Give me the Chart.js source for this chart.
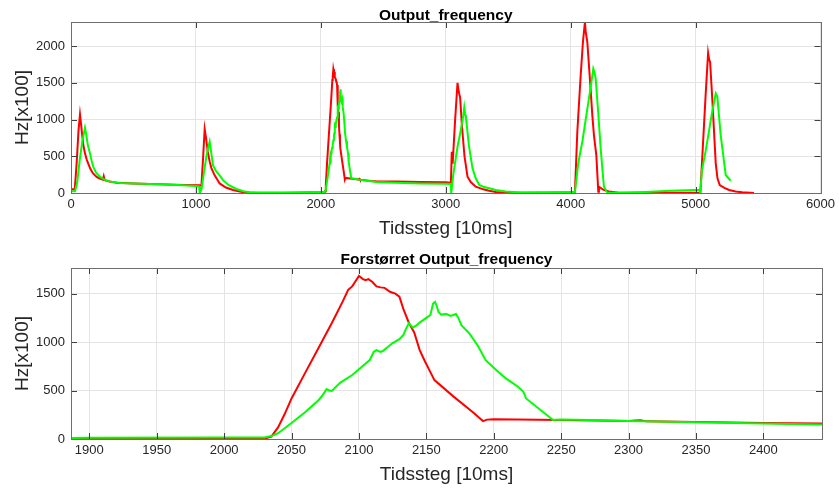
<!DOCTYPE html>
<html>
<head>
<meta charset="utf-8">
<script src="https://cdn.jsdelivr.net/npm/chart.js@4.4.0/dist/chart.umd.min.js"></script>
<style>
  html, body { margin: 0; padding: 0; background: #ffffff; }
  #wrap { position: relative; width: 839px; height: 488px; }
  canvas { position: absolute; left: 0; }
  #c1 { top: 0; }
  #c2 { top: 244px; }
</style>
</head>
<body>
<div id="wrap">
  <canvas id="c1" width="839" height="244"></canvas>
  <canvas id="c2" width="839" height="244"></canvas>
</div>
<script>
// ---- Data (time step [10ms], Hz[x100]) ----
const topTitle = "Output_frequency";
const zoomTitle = "Forstørret Output_frequency";
const xLabel = "Tidssteg [10ms]";
const yLabel = "Hz[x100]";

const redSeries = [
  [0,50],[30,50],[45,400],[60,850],[72,1070],[80,950],[90,780],[100,640],[112,540],[125,460],
  [138,400],[155,330],[175,270],[205,220],[230,195],[255,180],[262,230],[270,175],[300,160],[365,140],
  [500,130],[700,120],[900,110],[1030,105],[1044,100],[1058,500],[1070,870],[1080,760],[1095,560],[1110,430],
  [1124,340],[1150,240],[1190,130],[1240,75],[1297,40],[1350,20],[1403,5],[1500,2],[1700,3],[1900,5],
  [2000,8],[2031,8],[2035,25],[2040,120],[2045,260],[2050,419],[2060,680],[2070,940],[2080,1200],[2088,1420],
  [2092,1540],[2095,1575],[2100,1682],[2103,1650],[2105,1640],[2107,1650],[2110,1620],[2113,1575],[2116,1565],[2119,1560],
  [2123,1520],[2127,1500],[2130,1470],[2133,1340],[2137,1200],[2141,1100],[2145,920],[2149,800],[2153,690],[2156,608],
  [2170,440],[2185,270],[2192,185],[2195,200],[2200,205],[2250,195],[2300,185],[2305,190],[2309,193],[2313,182],
  [2350,175],[2400,165],[2443,160],[2600,155],[2800,150],[3000,145],[3041,140],[3048,560],[3055,400],[3075,1000],
  [3094,1500],[3100,1420],[3107,1356],[3115,1300],[3130,900],[3150,500],[3174,222],[3200,150],[3240,86],[3300,50],
  [3347,32],[3400,15],[3480,5],[3600,3],[3800,5],[4000,8],[4034,8],[4053,834],[4080,1605],[4098,2058],
  [4114,2330],[4120,2200],[4133,2058],[4146,1741],[4160,1400],[4173,1061],[4186,789],[4205,517],[4221,18],[4226,86],
  [4260,45],[4306,20],[4386,5],[4500,2],[4800,2],[5000,3],[5038,3],[5060,700],[5080,1330],[5100,1908],
  [5108,1820],[5116,1786],[5134,1265],[5161,404],[5175,200],[5193,109],[5230,70],[5268,41],[5320,20],[5374,10],
  [5467,0]
];

const greenSeries = [
  [0,25],[32,25],[50,150],[70,450],[90,700],[112,890],[120,820],[135,650],[152,540],[165,440],
  [178,360],[200,280],[232,220],[270,180],[312,155],[400,135],[500,128],[700,118],[900,105],[1000,95],
  [1025,90],[1031,0],[1045,50],[1070,350],[1090,560],[1110,700],[1120,580],[1137,380],[1160,300],[1190,240],
  [1217,175],[1260,110],[1324,55],[1380,25],[1430,10],[1500,3],[1700,5],[1900,12],[2000,15],[2030,15],
  [2035,30],[2040,60],[2050,165],[2060,275],[2070,400],[2073,450],[2076,515],[2078,500],[2080,495],[2083,540],
  [2086,580],[2090,615],[2095,660],[2100,720],[2105,780],[2108,815],[2111,900],[2113,917],[2116,900],[2118,910],
  [2120,935],[2125,990],[2130,1030],[2133,1075],[2135,1140],[2137,1195],[2140,1150],[2143,1175],[2145,1201],[2150,1250],
  [2153,1280],[2155,1397],[2156.5,1414],[2158,1360],[2159,1311],[2161,1284],[2165,1290],[2168,1270],[2172,1290],[2174,1243],
  [2176,1174],[2182,1088],[2188,968],[2194,813],[2202,710],[2209,625],[2218,539],[2222,488],[2224,419],[2244,196],
  [2250,200],[2270,195],[2300,185],[2350,172],[2400,160],[2443,150],[2600,140],[2800,130],[3000,125],[3040,122],
  [3044,0],[3060,250],[3094,630],[3120,857],[3140,1050],[3148,1165],[3155,1070],[3161,1040],[3185,650],[3214,336],
  [3240,200],[3268,109],[3300,85],[3347,64],[3400,40],[3480,20],[3600,8],[3800,10],[4000,15],[4034,15],
  [4060,400],[4093,698],[4120,1000],[4146,1288],[4165,1500],[4181,1696],[4190,1650],[4200,1560],[4220,1100],[4240,608],
  [4255,300],[4266,86],[4293,5],[4400,5],[4600,15],[4800,30],[5000,42],[5033,42],[5037,0],[5051,313],
  [5080,570],[5104,812],[5130,1080],[5161,1356],[5174,1310],[5200,800],[5241,245],[5281,167]
];

// axis ranges and tick values
const topXRange = [0, 6000];
const topYRange = [0, 2330];
const zoomXRange = [1886.4, 2443.5];
const zoomYRange = [0, 1765];
const topXTicks = [0, 1000, 2000, 3000, 4000, 5000, 6000];
const topYTicks = [0, 500, 1000, 1500, 2000];
const zoomXTicks = [1900, 1950, 2000, 2050, 2100, 2150, 2200, 2250, 2300, 2350, 2400];
const zoomYTicks = [0, 500, 1000, 1500];

// ---- Rendering ----
const FONT = "'Liberation Sans', Arial, Helvetica, sans-serif";
const TXT = '#262626';

function toXY(series) { return series.map(p => ({ x: p[0], y: p[1] })); }

function setTicks(list) {
  return s => { s.ticks = list.map(v => ({ value: v })); };
}

const boxPlugin = {
  id: 'matlabBox',
  afterDraw(chart) {
    const { ctx, chartArea: a, scales } = chart;
    ctx.save();
    ctx.strokeStyle = '#404040';
    ctx.lineWidth = 1;
    const tl = 6;
    scales.x.ticks.forEach(t => {
      const px = Math.round(scales.x.getPixelForValue(t.value)) + 0.5;
      ctx.beginPath();
      ctx.moveTo(px, a.bottom); ctx.lineTo(px, a.bottom - tl);
      ctx.moveTo(px, a.top); ctx.lineTo(px, a.top + tl);
      ctx.stroke();
    });
    scales.y.ticks.forEach(t => {
      const py = Math.round(scales.y.getPixelForValue(t.value)) + 0.5;
      ctx.beginPath();
      ctx.moveTo(a.left, py); ctx.lineTo(a.left + tl, py);
      ctx.moveTo(a.right, py); ctx.lineTo(a.right - tl, py);
      ctx.stroke();
    });
    ctx.strokeStyle = '#6e6e6e';
    ctx.strokeRect(Math.round(a.left) + 0.5, Math.round(a.top) + 0.5,
                   Math.round(a.right - a.left), Math.round(a.bottom - a.top));
    const title = chart.options.plugins.matlabBox.title;
    ctx.fillStyle = '#000000';
    ctx.font = 'bold 15.5px ' + FONT;
    ctx.textAlign = 'center';
    ctx.textBaseline = 'alphabetic';
    ctx.fillText(title, (a.left + a.right) / 2, 20);
    ctx.restore();
  }
};

function makeChart(id, cfg) {
  return new Chart(document.getElementById(id), {
    type: 'line',
    data: {
      datasets: [
        { label: 'green', data: toXY(greenSeries), borderColor: '#00ff00', borderWidth: 2,
          pointRadius: 0, tension: 0, fill: false },
        { label: 'red', data: toXY(redSeries), borderColor: '#ff0000', borderWidth: 2,
          pointRadius: 0, tension: 0, fill: false }
      ]
    },
    options: {
      responsive: false,
      animation: false,
      devicePixelRatio: 1,
      layout: { padding: { top: cfg.padTop, right: 17, bottom: 0, left: 0 } },
      plugins: {
        legend: { display: false },
        tooltip: { enabled: false },
        title: { display: false },
        matlabBox: { title: cfg.title }
      },
      scales: {
        x: {
          type: 'linear',
          min: cfg.xRange[0], max: cfg.xRange[1],
          afterBuildTicks: setTicks(cfg.xTicks),
          afterFit: s => { s.height = cfg.xAxisH; },
          ticks: { autoSkip: false, maxRotation: 0, padding: 4, callback: v => String(v),
                   color: TXT, font: { family: FONT, size: 13 } },
          grid: { color: '#e4e4e4', lineWidth: 1, drawTicks: false },
          border: { display: false },
          title: { display: true, text: xLabel, color: TXT,
                   font: { family: FONT, size: 19 }, padding: { top: 0, bottom: cfg.xTitlePad } }
        },
        y: {
          type: 'linear',
          min: cfg.yRange[0], max: cfg.yRange[1],
          afterBuildTicks: setTicks(cfg.yTicks),
          afterFit: s => { s.width = 71; },
          ticks: { autoSkip: false, padding: 6, callback: v => String(v),
                   color: TXT, font: { family: FONT, size: 13 } },
          grid: { color: '#e4e4e4', lineWidth: 1, drawTicks: false },
          border: { display: false },
          title: { display: true, text: yLabel, color: TXT,
                   font: { family: FONT, size: 19 }, padding: { top: 11, bottom: 0 } }
        }
      }
    },
    plugins: [boxPlugin]
  });
}

makeChart('c1', { title: topTitle, padTop: 22, xAxisH: 51, xTitlePad: 4,
  xRange: topXRange, yRange: topYRange, xTicks: topXTicks, yTicks: topYTicks });
makeChart('c2', { title: zoomTitle, padTop: 24, xAxisH: 49, xTitlePad: 1.5,
  xRange: zoomXRange, yRange: zoomYRange, xTicks: zoomXTicks, yTicks: zoomYTicks });
</script>
</body>
</html>
